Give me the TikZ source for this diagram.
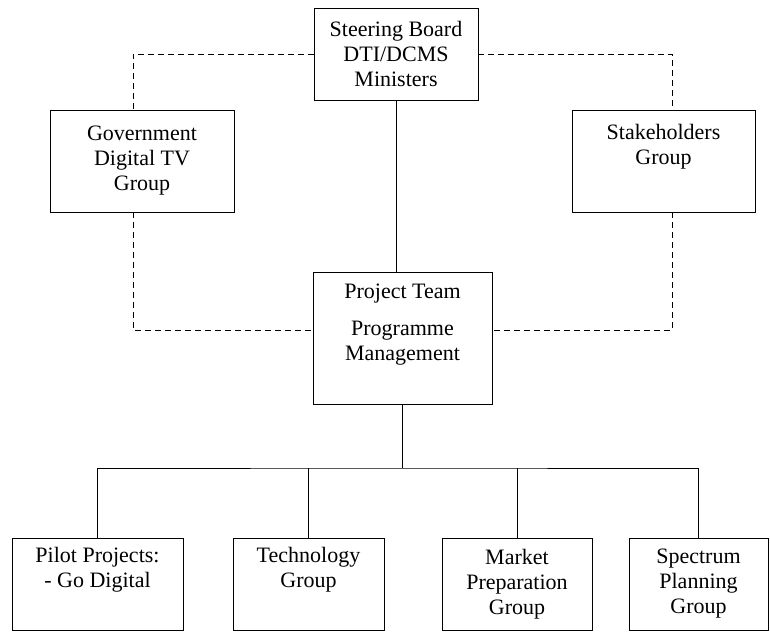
\documentclass[tikz,border=0pt]{standalone}
\usepackage{fontspec}
\setmainfont{Liberation Serif}
\usetikzlibrary{calc, positioning}
\tikzset{
	box/.style={draw, line width=0.9pt, align=center, inner sep=0pt, font=\fontsize{22}{25}\selectfont},
	link/.style={line width=0.9pt},
	dlink/.style={line width=0.9pt, dash pattern=on 6pt off 4pt},
}

\begin{document}
\begin{tikzpicture}[x=1pt, y=-1pt]
	\useasboundingbox (0,0) rectangle (770,632);

	\node[box, minimum width=164pt, minimum height=92pt] (steer) at (396,54) {Steering Board\\DTI/DCMS\\Ministers};
	\node[box, minimum width=184pt, minimum height=102pt] (gov) at (142,161) {Government\\Digital TV\\Group};
	\node[box, minimum width=183pt, minimum height=102pt] (stake) at (663.5,161) {Stakeholders\\Group\\\strut};
	\node[box, minimum width=179pt, minimum height=132pt] (proj) at (402.5,338) {Project Team\\[12pt]Programme\\Management\\\strut};

	\begin{scope}[every node/.append style={minimum height=92pt}]
		\node[box, minimum width=171pt] (pilot) at (97.5,584) {Pilot Projects:\\- Go Digital\\\strut};
		\node[box, minimum width=151pt] (tech) at (308.5,584) {Technology\\Group\\\strut};
		\node[box, minimum width=150pt] (mkt) at (517,584) {Market\\Preparation\\Group};
		\node[box, minimum width=139pt] (spec) at (698.5,584) {Spectrum\\Planning\\Group};
	\end{scope}

	\coordinate (bus) at (400,468);

	\draw[link] (steer.south) -- (steer.south |- proj.north);
	\draw[dlink] (steer.west) -| ([xshift=-9pt]gov.north);
	\draw[dlink] ([xshift=-9pt]gov.south) |- ([yshift=8pt]proj.west);
	\draw[dlink] (steer.east) -| ([xshift=8.5pt]stake.north);
	\draw[dlink] ([xshift=8.5pt]stake.south) |- ([yshift=8pt]proj.east);

	\draw[link] (proj.south) -- (proj.south |- bus);
	\draw[link] (pilot.north) |- (bus) -| (spec.north);
	\draw[link] (tech.north) -- (tech.north |- bus);
	\draw[link] (mkt.north) -- (mkt.north |- bus);
\end{tikzpicture}
\end{document}
